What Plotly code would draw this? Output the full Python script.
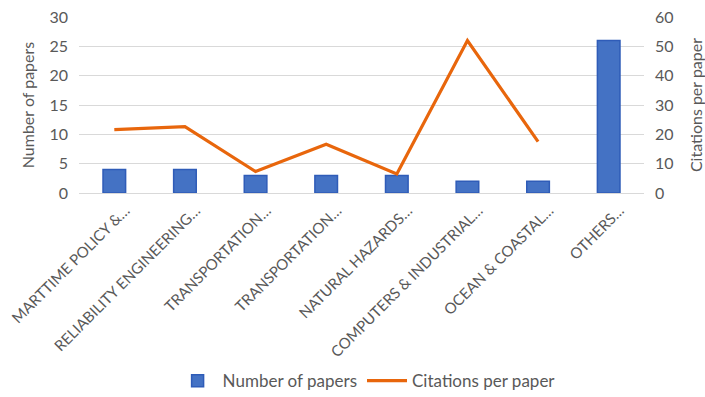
import plotly.graph_objects as go

categories = ["MARTTIME POLICY &…", "RELIABILITY ENGINEERING…", "TRANSPORTATION…",
              "TRANSPORTATION…", "NATURAL HAZARDS…", "COMPUTERS & INDUSTRIAL…",
              "OCEAN & COASTAL…", "OTHERS…"]
papers = [4, 4, 3, 3, 3, 2, 2, 26]
citations = [21.6, 22.6, 7.3, 16.6, 6.5, 52, 17.5, None]

x = list(range(len(categories)))
font = "Lato, 'Open Sans', sans-serif"
grey = "#595959"

fig = go.Figure()
fig.add_trace(go.Bar(x=x, y=papers, name="Number of papers", width=0.32,
                     marker=dict(color="#4472C4", line=dict(color="#2F5CB8", width=1.5))))
fig.add_trace(go.Scatter(x=x, y=citations, name="Citations per paper", yaxis="y2",
                         mode="lines", line=dict(color="#E8660C", width=3.2)))

fig.update_layout(
    width=705, height=397,
    margin=dict(l=79, r=61, t=17, b=204),
    paper_bgcolor="white", plot_bgcolor="white",
    font=dict(family=font, color=grey),
    xaxis=dict(tickvals=x, ticktext=categories, tickangle=-45, range=[-0.5, 7.5],
               tickfont=dict(size=15, color=grey), showgrid=False, automargin=False,
               ticklabeloverflow="allow", ticklabelstandoff=2, ticklabelshift=11,
               showline=True, linecolor="#d9d9d9", linewidth=1, ticks=""),
    yaxis=dict(range=[0, 30], dtick=5, showgrid=True, gridcolor="#d9d9d9",
               tickfont=dict(size=16, color=grey), zeroline=False, automargin=False,
               ticklabelstandoff=10,
               title=dict(text="Number of papers", font=dict(size=16, color=grey), standoff=10)),
    yaxis2=dict(range=[0, 60], dtick=10, overlaying="y", side="right", showgrid=False,
                tickfont=dict(size=16, color=grey), zeroline=False, automargin=False,
                ticklabelstandoff=10,
                title=dict(text="Citations per paper", font=dict(size=16, color=grey), standoff=18)),
    legend=dict(orientation="h", x=0.52, xanchor="center", xref="container",
                y=0.04, yanchor="middle", yref="container", itemwidth=40,
                font=dict(size=17, color=grey)),
    showlegend=True,
)

fig.write_html("out.html")
